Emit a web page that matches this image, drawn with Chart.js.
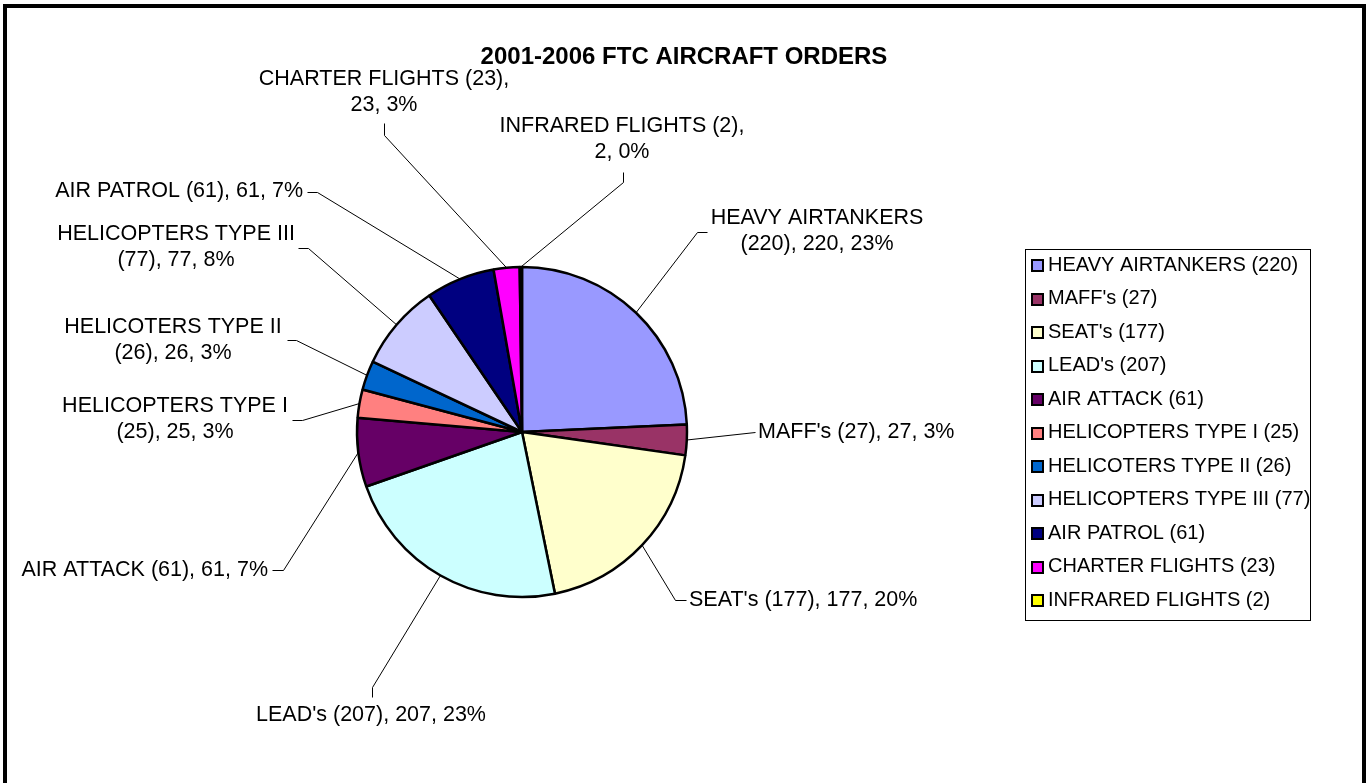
<!DOCTYPE html>
<html>
<head>
<meta charset="utf-8">
<script src="https://cdn.jsdelivr.net/npm/chart.js@4"></script>
<style>
html, body { margin: 0; padding: 0; background: #fff; }
#wrap { position: relative; width: 1366px; height: 783px; }
</style>
</head>
<body>
<div id="wrap"><canvas id="ordersPie"></canvas></div>
<script>
const chartTitle = '2001-2006 FTC AIRCRAFT ORDERS';
const categories = [
  'HEAVY AIRTANKERS (220)',
  "MAFF's (27)",
  "SEAT's (177)",
  "LEAD's (207)",
  'AIR ATTACK (61)',
  'HELICOPTERS TYPE I (25)',
  'HELICOTERS TYPE II (26)',
  'HELICOPTERS TYPE III (77)',
  'AIR PATROL (61)',
  'CHARTER FLIGHTS (23)',
  'INFRARED FLIGHTS (2)'
];
const orders = [220, 27, 177, 207, 61, 25, 26, 77, 61, 23, 2];
const percentLabels = [23, 3, 20, 23, 7, 3, 3, 8, 7, 3, 0];
const sliceColors = ['#9999FF', '#993366', '#FFFFCC', '#CCFFFF', '#660066', '#FF8080',
  '#0066CC', '#CCCCFF', '#000080', '#FF00FF', '#FFFF00'];

// leader line bends + text anchor for each data label
const labelLayout = [
  { pts: [[697, 232], [707, 232]], x: 817, y: 218, align: 'center', split: 2 },
  { pts: [[755, 432]], x: 758, y: 432, align: 'left' },
  { pts: [[675, 600], [686, 600]], x: 689, y: 600, align: 'left' },
  { pts: [[372, 687], [372, 697]], x: 371, y: 715, align: 'center' },
  { pts: [[283, 570], [272, 570]], x: 268, y: 570, align: 'right' },
  { pts: [[302, 420], [292, 420]], x: 175, y: 406, align: 'center', split: 3 },
  { pts: [[296, 340], [287, 340]], x: 173, y: 327, align: 'center', split: 3 },
  { pts: [[308, 248], [298, 248]], x: 176, y: 234, align: 'center', split: 3 },
  { pts: [[317, 192], [307, 192]], x: 303, y: 191, align: 'right' },
  { pts: [[384, 135], [384, 123]], x: 384, y: 79, align: 'center', split: 3 },
  { pts: [[623, 182], [623, 172]], x: 622, y: 126, align: 'center', split: 3 }
];

const FONT = "'Liberation Sans', Arial, sans-serif";

const decorations = {
  id: 'decorations',
  beforeDraw(chart) {
    const ctx = chart.ctx;
    ctx.save();
    ctx.fillStyle = '#fff';
    ctx.fillRect(0, 0, chart.width, chart.height);
    ctx.restore();
  },
  afterDatasetsDraw(chart) {
    const ctx = chart.ctx;
    const arcs = chart.getDatasetMeta(0).data;
    ctx.save();
    ctx.strokeStyle = '#000';
    ctx.lineWidth = 1;
    ctx.fillStyle = '#000';
    ctx.font = '21.5px ' + FONT;
    ctx.textBaseline = 'middle';
    arcs.forEach((arc, i) => {
      const lay = labelLayout[i];
      const mid = (arc.startAngle + arc.endAngle) / 2;
      const sx = arc.x + Math.cos(mid) * arc.outerRadius;
      const sy = arc.y + Math.sin(mid) * arc.outerRadius;
      ctx.beginPath();
      ctx.moveTo(sx, sy);
      lay.pts.forEach(p => ctx.lineTo(p[0] + 0.5, p[1] + 0.5));
      ctx.stroke();

      const text = categories[i] + ', ' + orders[i] + ', ' + percentLabels[i] + '%';
      let lines = [text];
      if (lay.split) {
        const words = text.split(' ');
        lines = [words.slice(0, lay.split).join(' '), words.slice(lay.split).join(' ')];
      }
      ctx.textAlign = lay.align;
      lines.forEach((ln, k) => ctx.fillText(ln, lay.x, lay.y + k * 26.5));
    });
    ctx.restore();
  },
  afterDraw(chart) {
    const ctx = chart.ctx;
    ctx.save();
    // title
    ctx.fillStyle = '#000';
    ctx.font = 'bold 24px ' + FONT;
    ctx.textAlign = 'center';
    ctx.textBaseline = 'middle';
    ctx.fillText(chartTitle, 684, 57);

    // legend box
    ctx.strokeStyle = '#000';
    ctx.lineWidth = 1;
    ctx.strokeRect(1025.5, 249.5, 285, 371);
    ctx.font = '20px ' + FONT;
    ctx.textAlign = 'left';
    categories.forEach((c, i) => {
      const y = 265 + i * 33.5;
      ctx.fillStyle = sliceColors[i];
      ctx.fillRect(1032, Math.round(y) - 5, 11, 11);
      ctx.lineWidth = 2;
      ctx.strokeRect(1032, Math.round(y) - 5, 11, 11);
      ctx.fillStyle = '#000';
      ctx.fillText(c, 1048, y);
    });

    // outer frame
    ctx.lineWidth = 4;
    ctx.strokeRect(5, 6, 1359, 800);
    ctx.restore();
  }
};

new Chart(document.getElementById('ordersPie').getContext('2d'), {
  type: 'pie',
  data: {
    labels: categories,
    datasets: [{
      data: orders,
      backgroundColor: sliceColors,
      borderColor: '#000',
      borderWidth: 2.5
    }]
  },
  options: {
    responsive: true,
    maintainAspectRatio: false,
    animation: false,
    radius: 165,
    layout: { padding: { left: 357, right: 679, top: 267, bottom: 186 } },
    plugins: {
      legend: { display: false },
      tooltip: { enabled: false },
      title: { display: false }
    }
  },
  plugins: [decorations]
});
</script>
</body>
</html>
